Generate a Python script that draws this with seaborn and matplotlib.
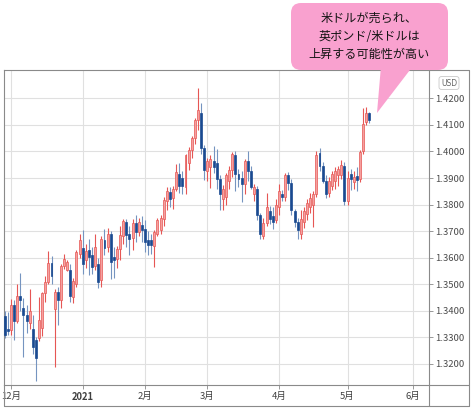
import numpy as np
import pandas as pd
import matplotlib
matplotlib.use("Agg")
import matplotlib.pyplot as plt
import seaborn as sns
from matplotlib.patches import FancyBboxPatch, Polygon
from matplotlib.lines import Line2D

# ---------------- data ----------------
first_day = "2020-11-27"
last_axis_day = "2021-06-01"
no_bar_days = ["2021-01-01"]

opens = [1.3380, 1.3330, 1.3328, 1.3420, 1.3360, 1.3455, 1.3410, 1.3385, 1.3355, 1.3330,
         1.3290, 1.3296, 1.3335, 1.3465, 1.3508, 1.3580, 1.3406, 1.3469, 1.3440, 1.3568,
         1.3555, 1.3553, 1.3452, 1.3500, 1.3615, 1.3635, 1.3590, 1.3628, 1.3609, 1.3570,
         1.3575, 1.3515, 1.3668, 1.3640, 1.3688, 1.3602, 1.3595, 1.3632, 1.3680, 1.3735,
         1.3690, 1.3675, 1.3732, 1.3695, 1.3722, 1.3709, 1.3668, 1.3665, 1.3645, 1.3690,
         1.3705, 1.3745, 1.3815, 1.3846, 1.3825, 1.3860, 1.3915, 1.3900, 1.3865, 1.3955,
         1.4005, 1.4050, 1.4118, 1.4145, 1.4012, 1.3928, 1.3940, 1.3965, 1.3955, 1.3895,
         1.3820, 1.3830, 1.3888, 1.3930, 1.3985, 1.3915, 1.3900, 1.3878, 1.3965, 1.3925,
         1.3840, 1.3860, 1.3759, 1.3680, 1.3730, 1.3775, 1.3755, 1.3740, 1.3790, 1.3838,
         1.3830, 1.3910, 1.3880, 1.3775, 1.3735, 1.3690, 1.3735, 1.3765, 1.3790, 1.3800,
         1.3838, 1.3994, 1.3944, 1.3890, 1.3845, 1.3870, 1.3890, 1.3910, 1.3910, 1.3945,
         1.3815, 1.3915, 1.3885, 1.3906, 1.3895, 1.4000, 1.4110, 1.4144]
highs = [1.3398, 1.3396, 1.3445, 1.3440, 1.3500, 1.3542, 1.3446, 1.3420, 1.3480, 1.3385,
         1.3300, 1.3450, 1.3470, 1.3530, 1.3625, 1.3606, 1.3480, 1.3490, 1.3575, 1.3612,
         1.3592, 1.3575, 1.3525, 1.3628, 1.3690, 1.3703, 1.3650, 1.3671, 1.3640, 1.3690,
         1.3600, 1.3680, 1.3709, 1.3710, 1.3700, 1.3640, 1.3645, 1.3720, 1.3746, 1.3745,
         1.3720, 1.3745, 1.3759, 1.3750, 1.3755, 1.3740, 1.3700, 1.3690, 1.3705, 1.3750,
         1.3760, 1.3830, 1.3865, 1.3865, 1.3870, 1.3952, 1.3956, 1.3925, 1.3990, 1.4015,
         1.4060, 1.4128, 1.4238, 1.4181, 1.4025, 1.3975, 1.3985, 1.4019, 1.4010, 1.3910,
         1.3875, 1.3920, 1.3945, 1.3998, 1.4002, 1.3934, 1.3925, 1.3970, 1.4002, 1.3945,
         1.3878, 1.3870, 1.3770, 1.3750, 1.3845, 1.3796, 1.3790, 1.3821, 1.3877, 1.3853,
         1.3920, 1.3921, 1.3895, 1.3784, 1.3750, 1.3780, 1.3790, 1.3820, 1.3845, 1.3850,
         1.4000, 1.4013, 1.3960, 1.3910, 1.3905, 1.3925, 1.3940, 1.3945, 1.3969, 1.3960,
         1.3925, 1.3935, 1.3925, 1.3940, 1.4006, 1.4163, 1.4169, 1.4150]
lows = [1.3296, 1.3308, 1.3310, 1.3290, 1.3355, 1.3400, 1.3225, 1.3317, 1.3330, 1.3235,
        1.3135, 1.3284, 1.3305, 1.3433, 1.3500, 1.3500, 1.3188, 1.3345, 1.3410, 1.3556,
        1.3548, 1.3431, 1.3430, 1.3490, 1.3600, 1.3540, 1.3560, 1.3534, 1.3540, 1.3555,
        1.3485, 1.3490, 1.3610, 1.3620, 1.3521, 1.3525, 1.3560, 1.3590, 1.3650, 1.3640,
        1.3610, 1.3630, 1.3659, 1.3680, 1.3660, 1.3620, 1.3610, 1.3615, 1.3566, 1.3680,
        1.3690, 1.3720, 1.3780, 1.3790, 1.3785, 1.3850, 1.3844, 1.3838, 1.3840, 1.3930,
        1.3975, 1.4030, 1.4080, 1.3990, 1.3892, 1.3888, 1.3863, 1.3920, 1.3860, 1.3778,
        1.3780, 1.3800, 1.3860, 1.3905, 1.3852, 1.3865, 1.3809, 1.3840, 1.3890, 1.3860,
        1.3815, 1.3740, 1.3671, 1.3670, 1.3720, 1.3725, 1.3709, 1.3730, 1.3760, 1.3815,
        1.3815, 1.3855, 1.3760, 1.3715, 1.3671, 1.3670, 1.3710, 1.3740, 1.3770, 1.3716,
        1.3830, 1.3925, 1.3880, 1.3825, 1.3830, 1.3855, 1.3860, 1.3870, 1.3895, 1.3800,
        1.3798, 1.3856, 1.3860, 1.3850, 1.3885, 1.3990, 1.4100, 1.4106]
closes = [1.3310, 1.3322, 1.3420, 1.3360, 1.3455, 1.3440, 1.3385, 1.3360, 1.3400, 1.3262,
          1.3220, 1.3365, 1.3465, 1.3508, 1.3580, 1.3530, 1.3469, 1.3440, 1.3568, 1.3594,
          1.3585, 1.3456, 1.3512, 1.3620, 1.3665, 1.3575, 1.3625, 1.3603, 1.3565, 1.3640,
          1.3510, 1.3670, 1.3638, 1.3688, 1.3585, 1.3590, 1.3632, 1.3685, 1.3738, 1.3685,
          1.3672, 1.3730, 1.3698, 1.3735, 1.3705, 1.3660, 1.3646, 1.3648, 1.3698, 1.3742,
          1.3750, 1.3819, 1.3850, 1.3820, 1.3860, 1.3922, 1.3870, 1.3868, 1.3985, 1.4006,
          1.4050, 1.4118, 1.4155, 1.4012, 1.3930, 1.3965, 1.3972, 1.3940, 1.3895, 1.3838,
          1.3860, 1.3912, 1.3932, 1.3990, 1.3915, 1.3896, 1.3878, 1.3965, 1.3925, 1.3865,
          1.3865, 1.3759, 1.3690, 1.3732, 1.3790, 1.3745, 1.3735, 1.3798, 1.3852, 1.3829,
          1.3912, 1.3880, 1.3778, 1.3735, 1.3705, 1.3745, 1.3775, 1.3805, 1.3825, 1.3838,
          1.3988, 1.3944, 1.3890, 1.3840, 1.3890, 1.3915, 1.3925, 1.3935, 1.3950, 1.3815,
          1.3900, 1.3895, 1.3905, 1.3894, 1.3998, 1.4105, 1.4144, 1.4120]

month_starts = ["2020-12-01", "2021-01-04", "2021-02-01", "2021-03-01",
                "2021-04-01", "2021-05-03", "2021-06-01"]
month_labels = ["12月", "2021", "2月", "3月", "4月", "5月", "6月"]
price_ticks = [1.32, 1.33, 1.34, 1.35, 1.36, 1.37, 1.38, 1.39, 1.40, 1.41, 1.42]
callout_lines = ["米ドルが売られ、", "英ポンド/米ドルは", "上昇する可能性が高い"]
currency = "USD"

# ---------------- frame ----------------
bars = pd.bdate_range(first_day, last_axis_day)
bars = bars[~bars.isin(pd.to_datetime(no_bar_days))]
pos = {d: i for i, d in enumerate(bars)}
n = len(opens)
df = pd.DataFrame({"date": bars[:n], "open": opens, "high": highs,
                   "low": lows, "close": closes})
df["x"] = np.arange(n)
df["up"] = df["close"] >= df["open"]

sns.set_theme(style="white")
plt.rcParams["font.family"] = ["Noto Sans CJK JP", "DejaVu Sans"]

W, H = 473, 412
fig = plt.figure(figsize=(W / 100, H / 100), dpi=100)
fig.patch.set_facecolor("white")

def fx(p):
    return p / W

def fy(p):
    return 1 - p / H

ax = fig.add_axes([fx(4), fy(385), fx(429) - fx(4), fy(70) - fy(385)])
ax.set_facecolor("white")

up_face, up_edge = "#f5a09f", "#e65654"
dn_face, dn_wick = "#1a4a91", "#7594c0"

upd = df[df["up"]]
dnd = df[~df["up"]]
ax.vlines(upd["x"], upd["low"], upd["high"], color=up_edge, lw=0.8, zorder=3)
ax.vlines(dnd["x"], dnd["low"], dnd["high"], color=dn_wick, lw=0.8, zorder=3)
body_lo = np.minimum(df["open"], df["close"])
body_h = np.maximum(np.abs(df["close"] - df["open"]), 0.00025)
cols = np.where(df["up"], up_face, dn_face)
edges = np.where(df["up"], up_edge, dn_face)
ax.bar(df["x"], body_h, bottom=body_lo, width=0.62, color=cols,
       edgecolor=edges, linewidth=0.5, zorder=4)

month_pos = [pos[pd.Timestamp(d)] for d in month_starts]
px_per_bar = (413 - 11) / (month_pos[-1] - month_pos[0])
x0 = month_pos[0] - (11 - 4) / px_per_bar
x1 = month_pos[0] + (429 - 11) / px_per_bar
ax.set_xlim(x0, x1)
ax.set_ylim(1.3120, 1.4307)

ax.set_yticks(price_ticks)
ax.set_yticklabels([f"{v:.4f}" for v in price_ticks])
ax.yaxis.tick_right()
ax.set_xticks(month_pos)
ax.set_xticklabels(month_labels)
for lab in ax.get_xticklabels():
    if lab.get_text() == "2021":
        lab.set_fontweight("bold")
ax.tick_params(axis="y", which="both", right=True, left=False, length=3, width=0.6,
               color="#888888", pad=1.5, labelsize=6.8, labelcolor="#4a4a4a")
ax.tick_params(axis="x", which="both", bottom=True, length=3, width=0.6,
               color="#888888", pad=2, labelsize=6.8, labelcolor="#404040")
ax.grid(True, color="#e0e0e0", lw=0.8, zorder=0)
ax.set_axisbelow(True)
for s in ax.spines.values():
    s.set_color("#8a8a8a")
    s.set_linewidth(0.8)

frame = "#8a8a8a"
for xs, ys in [([429, 469], [70, 70]), ([469, 469], [70, 406]), ([4, 469], [406, 406]),
               ([4, 4], [385, 406]), ([429, 469], [385, 385]), ([429, 429], [385, 406])]:
    fig.add_artist(Line2D([fx(v) for v in xs], [fy(v) for v in ys],
                          color=frame, lw=0.8, transform=fig.transFigure))

fig.text(fx(449), fy(83), currency, fontsize=5.5, color="#666666", ha="center", va="center",
         family=["DejaVu Sans"],
         bbox=dict(boxstyle="round,pad=0.25,rounding_size=0.3", fc="white", ec="#c8c8c8", lw=0.6))

# ---------------- callout ----------------
ov = fig.add_axes([0, 0, 1, 1], zorder=10)
ov.set_xlim(0, W)
ov.set_ylim(H, 0)
ov.set_axis_off()
ov.patch.set_alpha(0)
pink = "#f9a1cf"
ov.add_patch(Polygon([(381, 66), (413, 66), (377, 113)], closed=True, fc=pink, ec="none"))
ov.add_patch(FancyBboxPatch((291, 3), 157, 67, boxstyle="round,pad=0,rounding_size=10",
                            fc=pink, ec="none"))
for i, line in enumerate(callout_lines):
    ov.text(369, 18 + i * 18, line, fontsize=8.7, ha="center", va="center", color="#141414")

fig.savefig("out.png", dpi=100)
